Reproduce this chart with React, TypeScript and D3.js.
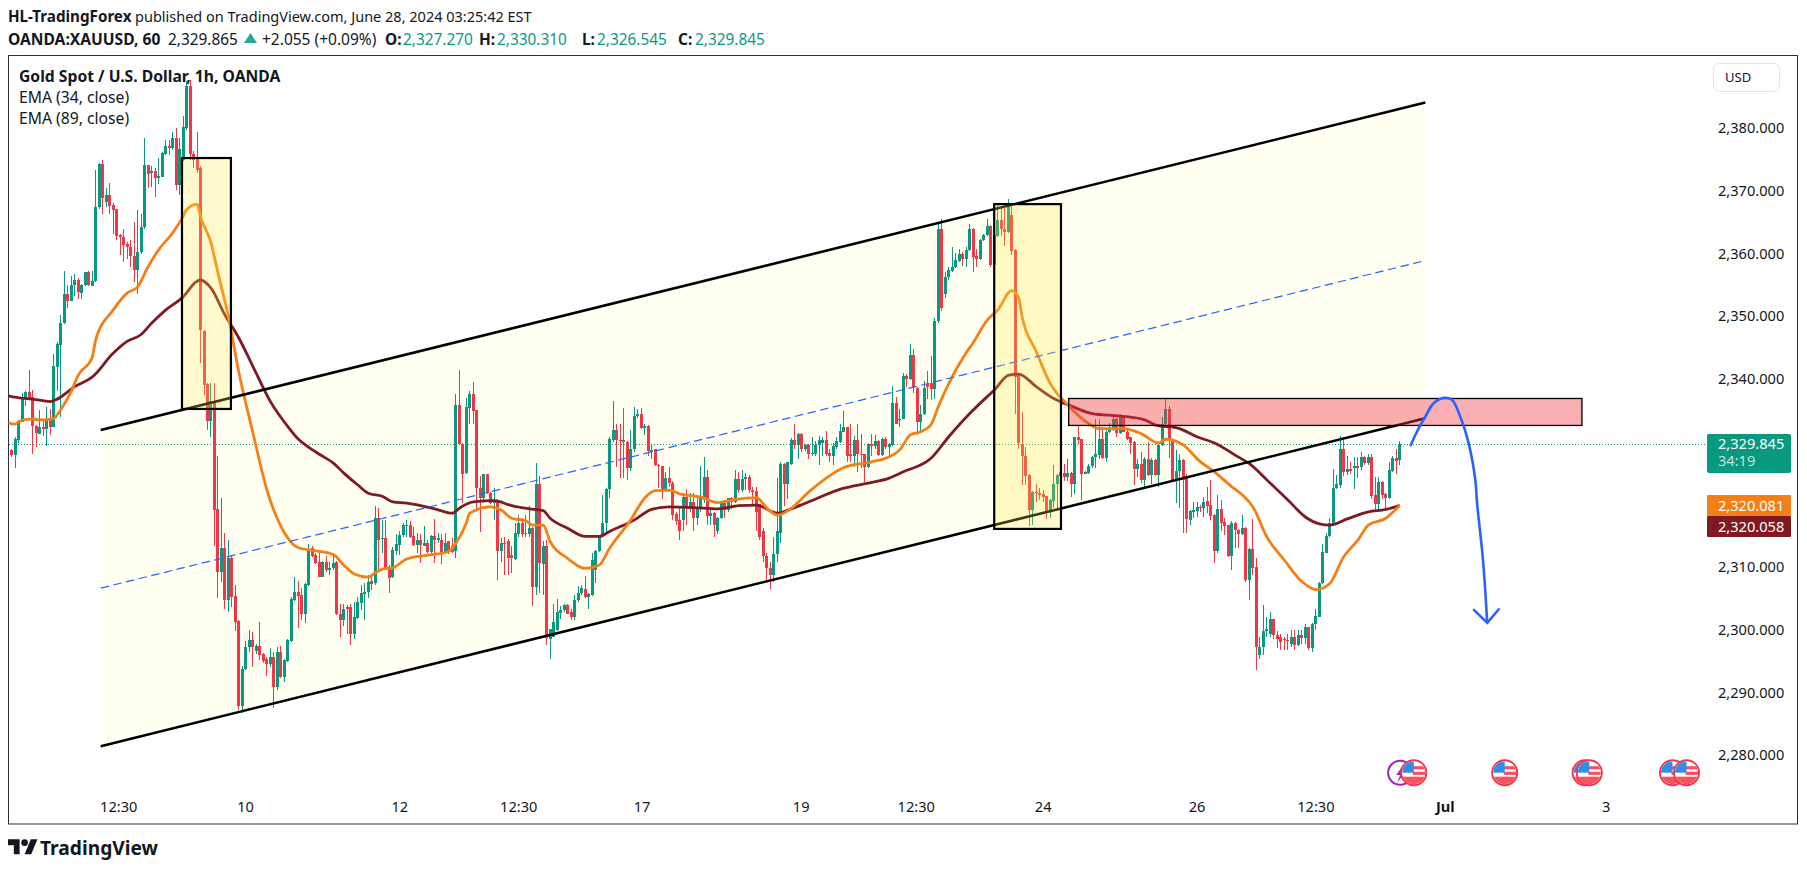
import React from "react";
import * as d3 from "d3";

const opens = [
2328.9,2328.1,2330.5,2333.4,2337.1,2338.1,2337.4,2332.7,2331.5,2332.6,
2332.2,2333.8,2332.6,2342.2,2345.7,2349.1,2353.8,2352.7,2355.2,2356,
2354,2355.2,2357.2,2355.1,2355.9,2367.6,2374.5,2368.5,2369.5,2368,
2367.3,2363.1,2362.9,2361.7,2361.3,2359.9,2357.6,2360.5,2364.4,2374.3,
2373,2373.4,2372.2,2372.5,2376.1,2377.3,2377.1,2378.6,2371.1,2375.2,
2380.2,2386.9,2376.1,2375.5,2373.8,2347.8,2339.4,2333.5,2336.7,2319.4,
2309.5,2313.3,2304.9,2311.6,2305.6,2301.6,2288.05,2294,2297.4,2298.6,
2296.8,2297.6,2296.3,2295.5,2294.8,2295.8,2291.1,2296.6,2292.6,2295.3,
2298.5,2305,2306.3,2305.7,2302.7,2307.4,2313.2,2312.1,2311.1,2308.7,
2311.1,2309.7,2310,2311.1,2302.8,2301.8,2303.8,2303.8,2299.5,2302.1,
2304.5,2305.9,2306.2,2308,2307.6,2318,2314.8,2314.8,2310.2,2308.6,
2312.8,2313.8,2315.3,2316.8,2316.9,2315.1,2313.7,2314.5,2313.6,2314.1,
2312.6,2315.2,2314.6,2314.6,2312.5,2314.3,2313.5,2312.8,2336,2329.9,
2325.2,2335.6,2337.8,2335.2,2322.9,2321.3,2325,2322,2320.4,2320.8,
2312.7,2314.1,2314.4,2312.2,2311.5,2315.5,2317.2,2315.7,2315.5,2316.4,
2307.1,2323.4,2310.7,2313.6,2298.7,2299.1,2300.2,2302.9,2303.3,2304.2,
2303,2302.3,2305,2306,2306.7,2305.5,2305.8,2309.8,2312.7,2315.1,
2317.2,2322.6,2330.5,2332,2330.5,2330.4,2330.2,2326,2329,2334.3,
2334.7,2332.4,2332.7,2328.6,2329,2326.5,2326.3,2322.5,2324.4,2323.7,
2318.6,2317.7,2317.7,2321.4,2319.7,2320.6,2318,2319.6,2320.9,2324.5,
2318.4,2318.8,2316,2318,2320.4,2319.3,2321.2,2320.6,2324.3,2322.5,
2324.3,2324.6,2322.5,2322.4,2320.2,2316,2312,2310,2309,2312.3,
2315.7,2326.7,2323.5,2326.7,2330.4,2329.7,2331.5,2329.1,2329.7,2328.3,
2328.2,2329.7,2330,2330.5,2328.4,2327.9,2329.4,2330.2,2331.8,2332.5,
2328.2,2327.9,2330.5,2328.3,2328.2,2326.2,2329.8,2329.5,2330.3,2328.1,
2330.6,2329.4,2329.7,2336.3,2333.9,2333.9,2340.7,2340.2,2344.1,2338.7,
2333.4,2334.7,2339.4,2339.5,2338.6,2349.4,2364.1,2353.8,2356.4,2357.5,
2358,2359.1,2360.2,2359.3,2360.8,2364.2,2359.8,2359.4,2362.3,2363.2,
2364.6,2358.4,2363,2365.6,2364.2,2363.7,2366.4,2360.8,2340.8,2329.9,
2327.9,2324.9,2319.3,2322.2,2322.1,2321.8,2321.5,2319,2320.8,2323.4,
2324.8,2325.2,2324.5,2325.2,2323.4,2330.9,2330.6,2325.1,2325.2,2326.3,
2327.8,2328.1,2330.7,2327.6,2331.8,2332,2333.9,2331.6,2334.3,2331.8,
2330.9,2330.2,2325.8,2326.6,2324.1,2327.5,2324.9,2327.3,2324.9,2329.7,
2333,2335.4,2330.3,2324.1,2325.5,2327.3,2324.7,2317.7,2319,2319.2,
2319.8,2319.6,2320.7,2320.1,2318.5,2312.7,2319.5,2317.4,2316.9,2312,
2317.3,2316.2,2315.5,2316.5,2308.1,2313.1,2310.2,2296.2,2297.5,2300,
2299.5,2301.9,2299.4,2299,2298.7,2298.6,2298,2299.1,2297.8,2299.4,
2298.9,2300.6,2297.3,2301.2,2302.3,2307.6,2312.5,2315.1,2317.1,2322.8,
2323.3,2329,2325.4,2325.9,2326,2326.3,2326.1,2327.7,2326.8,2327.7,
2321.7,2320.3,2323.8,2321.9,2321.2,2325.6,2327.6,2327.27];

const highs = [
2329,2330.9,2333.6,2337.9,2338.3,2341.7,2338.5,2332.8,2335.2,2333.9,
2335.7,2335.5,2344.2,2346.1,2350.4,2357.5,2355.2,2356.6,2357,2356.3,
2355.3,2357.3,2357.5,2357.5,2373.5,2374.7,2375.1,2370.7,2371.5,2368.2,
2367.4,2363.3,2364.2,2362.1,2362.4,2365.3,2367.2,2366.6,2378.6,2374.4,
2374.1,2373.8,2375.5,2376.4,2378.3,2378.4,2379.6,2380.2,2378.6,2382.1,
2387.8,2387.9,2376.5,2379.6,2374.2,2348.1,2339.5,2339.6,2339.6,2328,
2321.2,2315.6,2314.6,2311.9,2307.3,2301.7,2294.5,2298.5,2300.2,2299.9,
2298,2301.4,2296.5,2295.9,2297.3,2296.7,2297.5,2297.6,2295.6,2298.8,
2305.5,2308.7,2308,2306.8,2307.6,2313.9,2313.5,2312.4,2312.4,2311.2,
2312,2311.1,2312,2311.2,2304.4,2304.4,2304.2,2304.4,2304.7,2305.4,
2307.3,2307.6,2309,2308.7,2319.9,2319.6,2317.7,2317.7,2310.5,2313.4,
2315.5,2316,2317.2,2317.7,2317.6,2316.6,2315.6,2315.5,2316.7,2314.6,
2315.3,2317.8,2315.6,2315.5,2315.6,2314.4,2314.8,2337.8,2341.7,2330,
2337.1,2338.3,2339.8,2335.3,2324.7,2325.1,2325.1,2322.2,2322.9,2321,
2314.8,2315,2314.7,2313.5,2317.2,2318.5,2318,2318.5,2319.9,2316.6,
2326.8,2324.8,2314.4,2314.6,2300.4,2304.4,2305.1,2304,2304.4,2304.3,
2303.6,2305.8,2307.2,2307.4,2308.8,2306.1,2312.5,2312.9,2315.4,2321.7,
2322.8,2331,2336.7,2333.1,2333,2335.6,2330.3,2332.1,2335.7,2335.4,
2335.6,2333,2332.8,2329.9,2329.1,2326.6,2326.4,2325.3,2326.2,2323.9,
2319,2320,2322,2322.6,2322,2322,2321.4,2326.3,2327.7,2325.7,
2319.5,2319,2318.2,2320.6,2320.9,2321.3,2321.4,2325.7,2325.4,2325.7,
2325.2,2324.9,2323,2323,2320.3,2316.5,2312.5,2311,2315,2324.4,
2327,2326.8,2327,2330.8,2333.1,2331.6,2331.6,2329.9,2329.8,2331,
2330.3,2331.1,2331,2331.9,2329,2330,2331,2333.1,2335.1,2332.6,
2333,2331.1,2333,2331.5,2328.3,2330,2331.4,2331.2,2330.4,2330.8,
2331,2330,2339.1,2337.4,2335.5,2341.1,2341,2345.8,2345,2338.9,
2336.1,2339.9,2341.5,2343.9,2349.9,2365.3,2365.7,2357.3,2358,2361.2,
2360.3,2361,2360.4,2361.2,2365,2364.3,2361,2362.6,2363.4,2365.7,
2364.7,2364,2368.2,2367.5,2367.7,2368.9,2368,2360.9,2341,2334.9,
2329.3,2325.1,2322.3,2323.4,2322.8,2322.5,2321.6,2321,2326.5,2325.1,
2327,2326.7,2327.4,2325.3,2330.9,2332.9,2330.7,2325.5,2326.6,2328,
2333.9,2333.9,2332.6,2332.3,2333.2,2334.7,2334,2334.6,2334.4,2332,
2331,2330.3,2327.5,2328.6,2327.8,2330.2,2327.6,2327.5,2330,2334.1,
2337.1,2335.9,2330.5,2328.9,2328.2,2327.5,2325,2319.3,2320.6,2320.6,
2320.1,2321.4,2323,2324.1,2318.6,2321.7,2320.9,2318,2317,2317.5,
2317.4,2316.3,2318.5,2316.6,2313.2,2317.9,2311.6,2299,2304.1,2302.3,
2303,2302,2300,2299.5,2299,2299.5,2300.2,2300.1,2300.1,2300.1,
2301.1,2300.7,2301.3,2303.5,2307.8,2313.9,2315.7,2318,2325.9,2324.9,
2331.1,2330.8,2328,2327,2327.8,2327.7,2328.6,2328,2328.3,2328.3,
2324.6,2324.6,2324,2322,2327,2328,2329,2330.31];

const lows = [
2327.8,2326,2330,2333.4,2335.9,2337,2328.2,2329.3,2331.4,2331.1,
2329.6,2331.3,2332.5,2338.3,2334.2,2349,2351.6,2352.6,2353.5,2352.9,
2352.9,2355,2355,2355,2355.7,2367.4,2366.6,2367.7,2366.6,2363.4,
2362.4,2360,2358.8,2359.4,2358.1,2355.7,2353.7,2360.2,2364.2,2370.6,
2370.9,2369.3,2371.3,2372.4,2375.9,2376,2376.7,2370.3,2369.5,2375,
2380,2375.2,2373.8,2373.1,2342.8,2337.7,2332,2331,2313.5,2305.2,
2307.9,2303.6,2303.1,2303.9,2300,2287.4,2286.9,2293.8,2296.7,2294.3,
2296.3,2295.4,2294.9,2292.8,2294.3,2287.8,2290.6,2292.5,2291.9,2295.1,
2298.3,2304.8,2300.5,2301.8,2301.3,2307.2,2311.8,2310.7,2308.7,2308.6,
2309.5,2309,2309.8,2302.6,2299,2300.8,2299.6,2297.8,2298.7,2302,
2303.4,2301.7,2305.2,2306.6,2307.4,2309.5,2312.4,2310,2306,2308.5,
2312.2,2312.2,2315,2315,2314.9,2313.6,2312.4,2310.8,2313.6,2312.4,
2312.4,2310.8,2314,2310.7,2312.4,2312.3,2312.4,2311.6,2329.8,2320.4,
2325.1,2333.1,2333,2319.5,2315.8,2320.4,2321.8,2320.2,2317.7,2308.1,
2311.1,2309,2309,2309.2,2311.3,2315,2315,2315,2315,2304,
2305.8,2306,2305.8,2297.8,2295.6,2299,2300,2302,2303,2302.7,
2301.7,2301.7,2304.7,2305.8,2305.2,2303.5,2305.6,2307.6,2312.6,2315,
2315.5,2321.2,2330.2,2326.2,2324.4,2324.4,2324.1,2325.6,2328.6,2334,
2332.2,2331.3,2328,2327.5,2326.3,2322.9,2321,2322.2,2323,2317.7,
2317,2314.5,2316,2317,2319,2316,2317,2319,2320.5,2317,
2317,2315,2315.5,2317.8,2318,2319,2319.5,2320.4,2322,2322.2,
2322.5,2322,2320,2316,2314.5,2311,2308,2306.7,2307.8,2311,
2314,2320,2321,2326.5,2329,2327.5,2328.6,2328.8,2327.5,2328,
2328,2326.5,2328,2328,2327,2326.5,2329,2330,2331.7,2327,
2327,2326.1,2325.4,2326,2323.8,2326,2328,2329,2328,2328,
2329,2327.7,2329.5,2333,2332.6,2333.8,2339,2340,2338,2331.2,
2331.8,2334.5,2337,2336.8,2337,2349.2,2351,2353.1,2356,2357.3,
2357.9,2358.9,2358.3,2358,2360.7,2357.3,2358,2359.2,2362.2,2363,
2358,2355.2,2362.8,2363,2361.4,2363.5,2360,2334.7,2329,2323.3,
2323.3,2316.8,2316.9,2320.6,2320.9,2320.6,2317.8,2318,2319.6,2319.6,
2323,2323.9,2324,2321.4,2321.9,2329.8,2320.9,2325,2325,2326,
2326,2327.5,2327.5,2327,2331.6,2331.9,2331,2331.5,2331.7,2330.4,
2328.3,2323.3,2324.6,2323.7,2322.9,2324.8,2323.4,2324.7,2323,2329.5,
2332.9,2327.6,2324,2320.4,2319.7,2315.7,2315.7,2316.9,2318,2318.2,
2319,2318.2,2318.8,2317.7,2310.8,2312.5,2316,2315.3,2311.8,2309.8,
2313.2,2313.2,2315.3,2307.8,2305,2309,2293.8,2295.5,2296.2,2299,
2299,2298.7,2297.3,2297,2297,2297,2297.5,2297,2297.6,2298,
2298,2297,2296.6,2300.1,2302.2,2307.5,2312.4,2315,2317,2322.7,
2322.8,2324.8,2324.9,2325,2322.6,2324.4,2325.7,2326.5,2326.5,2321,
2319.2,2319.2,2321,2319.7,2321,2325.4,2325,2326.545];

const closes = [
2328.1,2330.6,2333.5,2337.3,2338.1,2337.1,2332.7,2331.6,2332.6,2332.3,
2333.8,2332.5,2342.3,2345.8,2349.1,2353.8,2352.6,2355.2,2356,2354.1,
2355.2,2357.2,2355.2,2355.9,2367.6,2374.5,2369,2369.5,2367.8,2367.2,
2363,2362.9,2361.6,2361.2,2359.9,2357.6,2360.5,2364.4,2374.3,2372.9,
2373.4,2372.2,2372.6,2376.3,2377.3,2377.1,2378.6,2371.1,2376.9,2380.4,
2386.9,2376.1,2375.1,2373.6,2348,2339.2,2333.5,2336.7,2319.3,2309.5,
2313.3,2304.9,2311.6,2305.5,2301.5,2288.05,2294,2297.5,2298.6,2297.4,
2297.7,2296.2,2295.2,2294.8,2295.8,2291.1,2296.6,2292.6,2295.4,2298.6,
2305.1,2306.3,2305.6,2302.7,2307.5,2313,2312,2310.8,2308.7,2311.1,
2309.7,2310.1,2310.9,2302.7,2301.8,2303.6,2303.6,2299.5,2302.2,2304.7,
2306,2306.3,2307.9,2307.5,2318.1,2314.5,2314.9,2310,2308.5,2312.9,
2313.9,2315.3,2316.9,2316.9,2315,2313.7,2314.5,2313.7,2314.1,2312.6,
2315.2,2314.6,2314.8,2312.5,2314.1,2312.6,2312.6,2336,2329.9,2325.1,
2335.7,2337.8,2335.1,2322.8,2321.3,2325,2322,2320.5,2320.9,2312.7,
2314.1,2314,2311.6,2311.7,2315.6,2317.2,2315.5,2315.5,2316.4,2307.1,
2323.4,2310.8,2313.6,2298.9,2300.4,2301.4,2303,2303.3,2304.2,2302.8,
2302.3,2305,2306,2306.8,2305.4,2305.9,2311.3,2312.8,2315.3,2317.2,
2322.6,2330.6,2332,2330.4,2330.3,2330.2,2326,2329,2334.3,2334.7,
2332.4,2332.7,2328.7,2328.9,2326.5,2326.3,2322.5,2324.4,2323.7,2318.5,
2317.6,2316,2321.4,2319.8,2320.6,2318,2319.6,2321.2,2324.5,2318.4,
2318.8,2317,2318,2320.4,2319.3,2321.2,2320.6,2324.2,2322.5,2324.3,
2324.6,2322.5,2322.2,2319,2315,2312,2310,2309,2312.3,2316,
2326.7,2323.5,2326.9,2330.4,2329.7,2331.5,2329.1,2329.7,2328.2,2328.4,
2329.7,2330.4,2330.4,2328.2,2327.9,2329.5,2330.3,2331.9,2332.5,2328,
2327.9,2330.5,2328.2,2328.2,2326.2,2329.8,2329.5,2330.3,2328.1,2330.6,
2329.4,2329.8,2336.3,2333.1,2333.9,2340.7,2340.2,2344.1,2339,2333.4,
2334.7,2338.7,2339,2338.6,2349.5,2364.1,2351.6,2356.5,2357.6,2358,
2359.2,2360.2,2359.3,2360.8,2364.2,2359.7,2359.4,2362.4,2363.2,2364.6,
2358.4,2363.2,2365.6,2364.1,2363.7,2367.8,2360.7,2340.5,2330,2327.9,
2324.8,2319.3,2322.2,2322.1,2321.7,2321.4,2319,2320.9,2323.5,2324.9,
2325.4,2324.5,2325.2,2323.4,2330.9,2330.5,2325.1,2325.4,2326.3,2327.8,
2328.2,2330.7,2327.6,2331.8,2332,2333.8,2331.6,2334.3,2331.8,2330.7,
2330,2325.8,2326.6,2324.1,2327.5,2324.9,2327.3,2324.9,2329.7,2333.1,
2335.4,2330.5,2324.1,2325.6,2327.3,2324.1,2317.8,2319.1,2319.3,2319.8,
2319.6,2320.6,2320,2318.3,2312.8,2319.5,2317.3,2316.7,2312,2317.3,
2316.1,2315.5,2316.5,2308.1,2313.1,2310.1,2297.5,2297.5,2300,2300.3,
2301.9,2299.4,2298.7,2298.3,2298.6,2298.5,2299,2297.8,2299.4,2298.9,
2300.6,2297.3,2301.2,2302.4,2307.6,2312.6,2315.1,2317.2,2322.9,2323.5,
2329,2325.4,2325.9,2325.6,2326.4,2326,2327.7,2326.8,2327.7,2321.5,
2320.3,2323.8,2321.7,2321.2,2325.7,2327.6,2327.2,2329.845];

const ema34Bars = [-1,1,2,5,8,12,14,17,19,23,24,29,33,36,39,42,46,49,50,53,54,57,59,62,65,69,73,78,82,87,92,95,98,102,104,106,109,113,119,125,127,130,131,137,140,143,147,149,152,154,159,164,168,171,177,181,184,188,191,197,202,206,213,216,219,223,228,233,238,246,251,254,257,260,263,265,269,273,275,279,282,286,288,289,293,297,302,308,311,318,323,328,330,335,340,344,349,352,355,359,364,369,373,377,381,385,388,393,397];
const ema34Values = [2333.2,2333,2333.4,2333.8,2333.7,2333.9,2335.3,2338.2,2340.8,2343.6,2346.4,2351.2,2353.9,2354.9,2358.1,2360.8,2363.5,2366.1,2367.2,2368.1,2366.1,2361.9,2357.1,2350.1,2341.2,2331.6,2322.5,2315.7,2313.3,2312.8,2312.2,2310.5,2309.1,2308.6,2309.3,2309.9,2310.1,2311.5,2312.1,2312.7,2314,2317.2,2318.8,2319.8,2319.3,2318,2317.6,2316.9,2316.9,2314.3,2311.6,2310,2310.5,2313.2,2317.7,2321.2,2322.4,2322.5,2321.9,2321.4,2320.5,2320.9,2321.3,2319.6,2318.5,2319.6,2322.2,2324.4,2326.1,2327,2327.8,2328.9,2331.3,2331.8,2333,2335.8,2340.6,2344.4,2346,2349.6,2351.2,2354.3,2353.1,2350.1,2344.6,2339.5,2336.1,2333.1,2332.3,2332.3,2331.5,2330,2330.6,2329.7,2327,2325.4,2323,2321.7,2319.8,2315,2311.3,2307.9,2306.6,2307.6,2311.9,2314.5,2316.9,2318,2320.08];
const ema89Bars = [-1,2,6,11,13,18,23,29,33,37,40,44,49,53,54,57,61,65,69,74,79,82,84,88,92,95,99,102,106,109,113,121,126,128,132,138,143,148,152,154,159,164,168,171,178,183,188,195,202,208,213,219,222,227,238,245,251,255,263,268,274,279,281,285,288,293,298,303,309,317,324,327,334,339,344,351,354,359,365,370,374,377,382,388,393,397];
const ema89Values = [2337.5,2337.2,2337,2336.6,2337,2339,2340.5,2344.3,2346.2,2347.3,2349.1,2351.2,2353.3,2355.8,2356,2354.7,2350.4,2346.7,2342.2,2336.6,2332.6,2330.6,2329.7,2328.2,2326.8,2325.2,2323.3,2322,2321.5,2320.6,2320.4,2319.5,2318.8,2319.6,2320.6,2320.8,2320,2319.5,2319.2,2318,2316.4,2315.1,2315.1,2315.9,2317.7,2319.4,2319.8,2319.7,2319.5,2320,2320.1,2318.8,2319.3,2320.4,2322.8,2323.6,2324.4,2325.4,2327.6,2331,2334.7,2337.4,2338.4,2340.8,2341,2339,2337.1,2335.9,2334.7,2334.3,2333.7,2332.9,2332.3,2331,2330,2327.7,2326.7,2324.1,2320.9,2318.2,2317.1,2316.9,2317.9,2319,2319.4,2320.06];

const priceTicks = [2280,2290,2300,2310,2320,2330,2340,2350,2360,2370,2380];
const timeTickBars = [30.6,66.9,111,145,180.3,225.8,258.7,295,339,373,410,456];
const timeTickLabels = ["12:30","10","12","12:30","17","19","12:30","24","26","12:30","Jul","3"];

const channelBars = [25.46,404.3];
const channelUpper = [2332.07,2384.29];
const channelMiddle = [2306.85,2359.1];
const channelLower = [2281.64,2333.94];

const yellowBoxBars = [[48.7,62.7],[281,300.1]];
const yellowBoxPrices = [[2375.45,2335.43],[2368.1,2316.3]];
const zoneBars = [302.3,449.1];
const zonePrices = [2337.1,2332.8];

const forecastBars = [400,401.9,404.3,406.6,409.5,411.9,414.3,416.7,418.6,419.1,420.8,422];
const forecastPrices = [2329.5,2331.8,2334.2,2336.3,2337.2,2336.9,2334.2,2329.95,2324.1,2320.4,2311.3,2301.3];
const arrowWingBars = [418,425.5];
const arrowWingPrices = [2303.5,2303.6];

const eventBars = [427,450,451.2,475,479,401];
const lastPrice = 2329.845;
const ema34Last = 2320.081;
const ema89Last = 2320.058;

const UP = "#089981";
const DOWN = "#f23645";
const INK = "#131722";
const FONT = "'Noto Sans', sans-serif";

const x = d3.scaleLinear().domain([0, opens.length - 1]).range([11.7, 1399.8]);
const y = d3.scaleLinear().domain([2280, 2380]).range([756.5, 129.5]);
const lineGen = d3.line<[number, number]>().x(d => x(d[0])).y(d => y(d[1]));
const smooth = d3.line<[number, number]>().x(d => x(d[0])).y(d => y(d[1])).curve(d3.curveMonotoneX);
const round = d3.line<[number, number]>().x(d => x(d[0])).y(d => y(d[1])).curve(d3.curveCatmullRom);
const zip = (a: number[], b: number[]) => a.map((v, i) => [v, b[i]] as [number, number]);

function FlagIcon({ cx }: { cx: number }) {
  const cy = 772.7, r = 11.5;
  const id = "f" + Math.round(cx * 10);
  return (
    <g>
      <clipPath id={id}><circle cx={cx} cy={cy} r={r} /></clipPath>
      <circle cx={cx} cy={cy} r={r + 1} fill="#fff" stroke={DOWN} strokeWidth={2} />
      <g clipPath={`url(#${id})`}>
        <rect x={cx - r} y={cy - r} width={2 * r} height={2 * r} fill="#fff" />
        <rect x={cx - 1} y={cy - 6.5} width={r + 1} height={3.2} fill="#f7525f" />
        <rect x={cx - 1} y={cy - 1} width={r + 1} height={3.2} fill="#f7525f" />
        <rect x={cx - r} y={cy + 4} width={2 * r} height={r} fill="#f7525f" />
        <rect x={cx - r} y={cy - r} width={r} height={r} fill="#2f8fe8" />
      </g>
    </g>
  );
}

export default function App() {
  const bars = d3.range(opens.length);
  const upperPts = zip(channelBars, channelUpper);
  const lowerPts = zip(channelBars, channelLower);
  const chPoly = [...upperPts, ...[...lowerPts].reverse()]
    .map(p => `${x(p[0])},${y(p[1])}`).join(" ");
  const T = (p: { x: number; y: number; t: string; w?: number; f?: string; s?: number }, k: number) => (
    <text key={k} x={p.x} y={p.y} fontSize={p.s ?? 14.4} fontWeight={p.w ?? 400} fill={p.f ?? INK} fontFamily={FONT}>{p.t}</text>
  );
  const header = [
    { x: 8, y: 21.5, t: "HL-TradingForex", w: 700, s: 15.2 },
    { x: 135, y: 21.5, t: "published on TradingView.com, June 28, 2024 03:25:42 EST", s: 14.5 },
    { x: 8, y: 44.5, t: "OANDA:XAUUSD, 60", w: 700, s: 15.6 },
    { x: 168, y: 44.5, t: "2,329.865", s: 15.4 },
    { x: 262, y: 44.5, t: "+2.055 (+0.09%)", s: 15.5 },
    { x: 385, y: 44.5, t: "O:", w: 700, s: 15.4 },
    { x: 403, y: 44.5, t: "2,327.270", f: UP, s: 15.4 },
    { x: 479, y: 44.5, t: "H:", w: 700, s: 15.4 },
    { x: 497, y: 44.5, t: "2,330.310", f: UP, s: 15.4 },
    { x: 582, y: 44.5, t: "L:", w: 700, s: 15.4 },
    { x: 597, y: 44.5, t: "2,326.545", f: UP, s: 15.4 },
    { x: 678, y: 44.5, t: "C:", w: 700, s: 15.4 },
    { x: 695, y: 44.5, t: "2,329.845", f: UP, s: 15.4 },
    { x: 19, y: 81.5, t: "Gold Spot / U.S. Dollar, 1h, OANDA", w: 700, s: 15.7 },
    { x: 19, y: 102.5, t: "EMA (34, close)", s: 15.7 },
    { x: 19, y: 123.5, t: "EMA (89, close)", s: 15.7 },
  ];
  return (
    <svg width={1807} height={871} style={{ position: "absolute", left: 0, top: 0, background: "#fff" }}>
      <defs>
        <clipPath id="pane"><rect x={8.5} y={56} width={1789} height={768} /></clipPath>
      </defs>
      {header.map(T)}
      <path d="M244,43 L250.5,33 L257,43 Z" fill="#26a69a" />

      <rect x={8.5} y={55.5} width={1789} height={768.5} fill="none" stroke="#2a2e39" strokeWidth={1} />

      <g clipPath="url(#pane)">
        <polygon points={chPoly} fill="#fffff2" />
        <line x1={8.5} x2={1707} y1={Math.round(y(lastPrice)) + 0.5} y2={Math.round(y(lastPrice)) + 0.5} stroke={UP} strokeWidth={1} strokeDasharray="1 2" shapeRendering="crispEdges" />
        <g shapeRendering="crispEdges">
          {bars.map(i => {
            const up = closes[i] >= opens[i];
            const c = up ? UP : DOWN;
            const left = Math.round(x(i) - 1.5);
            const top = y(Math.max(opens[i], closes[i]));
            const bot = y(Math.min(opens[i], closes[i]));
            return (
              <g key={i} fill={c}>
                <rect x={left + 1} width={1} y={y(highs[i])} height={Math.max(1, y(lows[i]) - y(highs[i]))} />
                <rect x={left} width={3} y={top} height={Math.max(1, bot - top)} />
              </g>
            );
          })}
        </g>
        <path d={smooth(zip(ema89Bars, ema89Values)) ?? ""} fill="none" stroke="#801922" strokeWidth={2.8} />
        <path d={smooth(zip(ema34Bars, ema34Values)) ?? ""} fill="none" stroke="#f57f17" strokeWidth={2.8} />

        <path d={lineGen(upperPts) ?? ""} stroke="#000" strokeWidth={2.6} fill="none" />
        <path d={lineGen(lowerPts) ?? ""} stroke="#000" strokeWidth={2.6} fill="none" />
        <path d={lineGen(zip(channelBars, channelMiddle)) ?? ""} stroke="#2962ff" strokeWidth={1.2} strokeDasharray="8.5 4.5" fill="none" />

        {yellowBoxBars.map((b, k) => (
          <rect key={k} x={x(b[0])} width={x(b[1]) - x(b[0])} y={y(yellowBoxPrices[k][0])}
            height={y(yellowBoxPrices[k][1]) - y(yellowBoxPrices[k][0])}
            fill="rgba(255,235,59,0.25)" stroke="#000" strokeWidth={2.2} />
        ))}
        <rect x={x(zoneBars[0])} width={x(zoneBars[1]) - x(zoneBars[0])} y={y(zonePrices[0])}
          height={y(zonePrices[1]) - y(zonePrices[0])} fill="rgba(242,54,69,0.4)" stroke="#000" strokeWidth={1.3} />

        <path d={round(zip(forecastBars, forecastPrices)) ?? ""} fill="none" stroke="#2962ff" strokeWidth={2.6} />
        <path d={`M${x(arrowWingBars[0])},${y(arrowWingPrices[0])} L${x(forecastBars[forecastBars.length - 1])},${y(forecastPrices[forecastPrices.length - 1])} L${x(arrowWingBars[1])},${y(arrowWingPrices[1])}`}
          fill="none" stroke="#2962ff" strokeWidth={2.6} />

        <g>
          <circle cx={x(397.1)} cy={772.7} r={12} fill="#fff" stroke="#9c27b0" strokeWidth={2} />
          <path d={`M${x(397.1) + 3},${765} l-7,10 h4 l-3,8 l8,-11 h-4 z`} fill="#9c27b0" />
          {eventBars.map((b, k) => <FlagIcon key={k} cx={x(b)} />)}
        </g>
      </g>

      {priceTicks.filter(p => p !== 2320 && p !== 2330).map(p => (
        <text key={p} x={1718} y={y(p) + 3.8} fontSize={14.6} fill={INK} fontFamily={FONT}>{d3.format(",.3f")(p)}</text>
      ))}
      {timeTickBars.map((b, k) => (
        <text key={k} x={x(b)} y={812} textAnchor="middle" fontSize={14.6} fontWeight={timeTickLabels[k] === "Jul" ? 700 : 400} fill={INK} fontFamily={FONT}>{timeTickLabels[k]}</text>
      ))}

      <rect x={1707} y={434} width={84} height={39} rx={2} fill={UP} />
      <text x={1718} y={448.5} fontSize={14.6} fill="#fff" fontFamily={FONT}>{d3.format(",.3f")(lastPrice)}</text>
      <text x={1718} y={466} fontSize={14.6} fill="rgba(255,255,255,0.75)" fontFamily={FONT}>34:19</text>
      <rect x={1707} y={495} width={84} height={21} rx={1} fill="#f57f17" />
      <text x={1718} y={510.5} fontSize={14.6} fill="#fff" fontFamily={FONT}>{d3.format(",.3f")(ema34Last)}</text>
      <rect x={1707} y={516} width={84} height={21} rx={1} fill="#801922" />
      <text x={1718} y={531.5} fontSize={14.6} fill="#fff" fontFamily={FONT}>{d3.format(",.3f")(ema89Last)}</text>

      <rect x={1713.5} y={63.5} width={66} height={28} rx={6} fill="#fff" stroke="#e0e3eb" />
      <text x={1725} y={82} fontSize={13} fill={INK} fontFamily={FONT}>USD</text>

      <g transform="translate(8,836) scale(0.83)" fill={INK}>
        <path d="M14 22H7V11H0V4h14v18zM28 22h-8l7.5-18h8L28 22z" />
        <circle cx={20} cy={8} r={4} />
      </g>
      <text x={40} y={855} fontSize={19.2} fontWeight={700} fill={INK} fontFamily={FONT}>TradingView</text>
    </svg>
  );
}
